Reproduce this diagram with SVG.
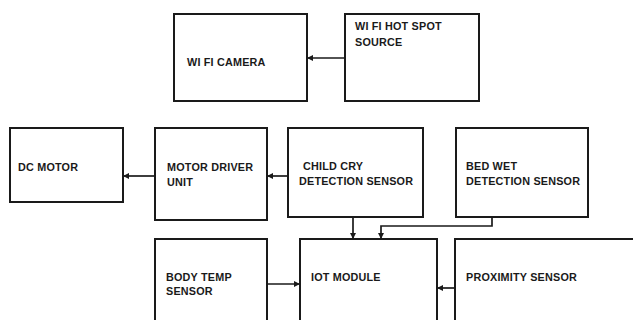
<svg xmlns="http://www.w3.org/2000/svg" width="633" height="320" viewBox="0 0 633 320">
<style>
.box{fill:#fff;stroke:#1a1a1a;stroke-width:2}
.t{font-family:"Liberation Sans",Arial,sans-serif;font-weight:bold;font-size:10.8px;fill:#1a1a1a;letter-spacing:0.2px}
.c{fill:none;stroke:#1a1a1a;stroke-width:1.7}
</style>
<defs>
<marker id="ah" viewBox="0 0 10 10" refX="10" refY="5" markerWidth="6" markerHeight="6" markerUnits="userSpaceOnUse" orient="auto"><path d="M0,0L10,5L0,10Z" fill="#1a1a1a"/></marker>
</defs>
<rect width="633" height="320" fill="#fff"/>
<g id="wifi-camera"><rect class="box" x="174" y="14" width="133" height="87"/><text class="t" x="187" y="66">WI FI CAMERA</text></g>
<g id="wifi-hotspot"><rect class="box" x="345" y="14" width="134" height="87"/><text class="t" x="355" y="30">WI FI HOT SPOT</text><text class="t" x="355" y="46">SOURCE</text></g>
<g id="dc-motor"><rect class="box" x="10" y="128" width="113" height="74"/><text class="t" x="18" y="171">DC MOTOR</text></g>
<g id="motor-driver"><rect class="box" x="155" y="128" width="112" height="92"/><text class="t" x="167" y="171">MOTOR DRIVER</text><text class="t" x="167" y="186">UNIT</text></g>
<g id="child-cry"><rect class="box" x="288" y="128" width="135" height="89"/><text class="t" x="303" y="170">CHILD CRY</text><text class="t" x="299" y="185">DETECTION SENSOR</text></g>
<g id="bed-wet"><rect class="box" x="456" y="128" width="132" height="89"/><text class="t" x="466" y="170">BED WET</text><text class="t" x="466" y="185">DETECTION SENSOR</text></g>
<g id="body-temp"><rect class="box" x="155" y="239" width="112" height="100"/><text class="t" x="166" y="281">BODY TEMP</text><text class="t" x="166" y="295">SENSOR</text></g>
<g id="iot-module"><rect class="box" x="300" y="239" width="137" height="100"/><text class="t" x="311" y="281">IOT MODULE</text></g>
<g id="proximity"><rect class="box" x="455" y="239" width="200" height="100"/><text class="t" x="466" y="281">PROXIMITY SENSOR</text></g>
<g id="connectors">
<line class="c" x1="345" y1="58" x2="307" y2="58" marker-end="url(#ah)"/>
<line class="c" x1="155" y1="176" x2="123" y2="176" marker-end="url(#ah)"/>
<line class="c" x1="288" y1="176" x2="267" y2="176" marker-end="url(#ah)"/>
<line class="c" x1="353" y1="217" x2="353" y2="239" marker-end="url(#ah)"/>
<polyline class="c" points="492,217 492,226 381,226 381,239" marker-end="url(#ah)"/>
<line class="c" x1="267" y1="284" x2="300" y2="284" marker-end="url(#ah)"/>
<line class="c" x1="455" y1="288" x2="437" y2="288" marker-end="url(#ah)"/>
</g>
</svg>
